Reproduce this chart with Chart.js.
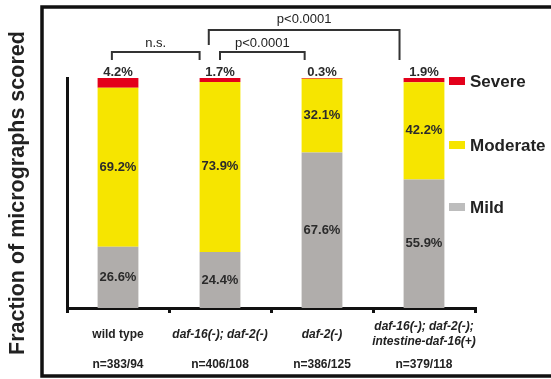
<!DOCTYPE html>
<html>
<head>
<meta charset="utf-8">
<script src="https://cdn.jsdelivr.net/npm/chart.js@4"></script>
<style>
  html, body { margin: 0; padding: 0; background: #fff; }
  #wrap { width: 551px; height: 379px; position: relative; }
</style>
</head>
<body>
<div id="wrap"><canvas id="myChart"></canvas></div>
<script>
var genotypes = ['wild type', 'daf-16(-); daf-2(-)', 'daf-2(-)', ['daf-16(-); daf-2(-);', 'intestine-daf-16(+)']];
var sampleSizes = ['n=383/94', 'n=406/108', 'n=386/125', 'n=379/118'];
var mild = [26.6, 24.4, 67.6, 55.9];
var moderate = [69.2, 73.9, 32.1, 42.2];
var severe = [4.2, 1.7, 0.3, 1.9];
// significance brackets, from/to in category units
var compText = ['n.s.', 'p<0.0001', 'p<0.0001'];
var compFrom = [-0.06, 1.0, 0.89];
var compTo = [0.8, 1.83, 2.76];
var compLevel = [0, 0, 1];

var FONT = '"Liberation Sans", Arial, sans-serif';

var framePlugin = {
    id: 'frame',
    beforeDraw: function (chart) {
        var ctx = chart.ctx;
        ctx.save();
        ctx.strokeStyle = '#111';
        ctx.lineWidth = 3.5;
        ctx.strokeRect(42, 7, 560, 369);
        ctx.restore();
    }
};

var valueLabels = {
    id: 'valueLabels',
    afterDatasetsDraw: function (chart) {
        var ctx = chart.ctx;
        var last = chart.data.datasets.length - 1;
        ctx.save();
        ctx.font = 'bold 13px ' + FONT;
        ctx.fillStyle = '#2b2b2b';
        ctx.textAlign = 'center';
        chart.data.datasets.forEach(function (ds, i) {
            chart.getDatasetMeta(i).data.forEach(function (bar, j) {
                var text = ds.data[j].toFixed(1) + '%';
                if (i === last) {
                    ctx.textBaseline = 'bottom';
                    ctx.fillText(text, bar.x, bar.y + 1);
                } else {
                    ctx.textBaseline = 'middle';
                    ctx.fillText(text, bar.x, (bar.y + bar.base) / 2);
                }
            });
        });
        ctx.restore();
    }
};

var brackets = {
    id: 'brackets',
    afterDraw: function (chart) {
        var ctx = chart.ctx;
        var x = chart.scales.x;
        var top = chart.chartArea.top;
        // per level: bar height, left leg end, right leg end, text y
        var lv = [
            { y: top - 26, l: top - 18, r: top - 18, t: top - 35 },
            { y: top - 48, l: top - 33, r: top - 18, t: top - 59 }
        ];
        ctx.save();
        ctx.strokeStyle = '#333';
        ctx.lineWidth = 2;
        ctx.fillStyle = '#222';
        ctx.font = '13px ' + FONT;
        ctx.textAlign = 'center';
        ctx.textBaseline = 'middle';
        for (var i = 0; i < compText.length; i++) {
            var s = lv[compLevel[i]];
            var x1 = x.getPixelForValue(compFrom[i]);
            var x2 = x.getPixelForValue(compTo[i]);
            ctx.beginPath();
            ctx.moveTo(x1, s.l);
            ctx.lineTo(x1, s.y);
            ctx.lineTo(x2, s.y);
            ctx.lineTo(x2, s.r);
            ctx.stroke();
            ctx.fillText(compText[i], (x1 + x2) / 2, s.t);
        }
        ctx.restore();
    }
};

var sideLegend = {
    id: 'sideLegend',
    afterDraw: function (chart) {
        var ctx = chart.ctx;
        var area = chart.chartArea;
        var offsets = [3, 67, 129];
        var items = chart.data.datasets.slice().reverse();
        ctx.save();
        ctx.font = 'bold 17px ' + FONT;
        ctx.textBaseline = 'middle';
        ctx.textAlign = 'left';
        items.forEach(function (ds, i) {
            var cy = area.top + offsets[i];
            ctx.fillStyle = ds.legendColor || ds.backgroundColor;
            ctx.fillRect(area.right - 26, cy - 4, 16, 8);
            ctx.fillStyle = '#222';
            ctx.fillText(ds.label, area.right - 5, cy + 1);
        });
        ctx.restore();
    }
};

var ctx = document.getElementById('myChart').getContext('2d');

var myChart = new Chart(ctx, {
    type: 'bar',
    data: {
        labels: genotypes,
        datasets: [
            { label: 'Mild', data: mild, backgroundColor: '#b0adab', legendColor: '#bdbdbd' },
            { label: 'Moderate', data: moderate, backgroundColor: '#f6e500' },
            { label: 'Severe', data: severe, backgroundColor: '#e3001b' }
        ]
    },
    options: {
        responsive: true,
        maintainAspectRatio: false,
        animation: false,
        layout: { padding: { top: 78, right: 76, bottom: 4, left: 0 } },
        datasets: { bar: { categoryPercentage: 1, barPercentage: 0.4 } },
        plugins: {
            legend: { display: false },
            tooltip: { enabled: false }
        },
        scales: {
            x: {
                stacked: true,
                weight: 0,
                afterFit: function (s) { s.height = 43; },
                border: { display: true, color: '#111', width: 3 },
                grid: {
                    display: true,
                    drawOnChartArea: false,
                    drawTicks: true,
                    tickLength: 5,
                    lineWidth: 3,
                    color: '#111',
                    offset: true
                },
                ticks: {
                    color: '#222',
                    padding: 14,
                    maxRotation: 0,
                    minRotation: 0,
                    autoSkip: false,
                    crossAlign: 'center',
                    font: function (c) {
                        return { family: FONT, size: 12, weight: 'bold', style: c.index === 0 ? 'normal' : 'italic' };
                    }
                }
            },
            x2: {
                type: 'category',
                labels: sampleSizes,
                position: 'bottom',
                offset: true,
                weight: 1,
                afterFit: function (s) { s.height = 24; },
                border: { display: false },
                grid: { display: false, drawTicks: false },
                ticks: {
                    color: '#222',
                    padding: 6,
                    maxRotation: 0,
                    autoSkip: false,
                    font: { family: FONT, size: 12, weight: 'bold' }
                }
            },
            y: {
                stacked: true,
                min: 0,
                max: 100,
                afterFit: function (s) { s.width = 67; },
                border: { display: true, color: '#111', width: 3 },
                grid: { display: false },
                ticks: { display: false },
                title: {
                    display: true,
                    text: 'Fraction of micrographs scored',
                    color: '#222',
                    font: { family: FONT, size: 21.5, weight: 'bold' },
                    padding: { top: 5, bottom: 30 }
                }
            }
        }
    },
    plugins: [framePlugin, valueLabels, brackets, sideLegend]
});
</script>
</body>
</html>
